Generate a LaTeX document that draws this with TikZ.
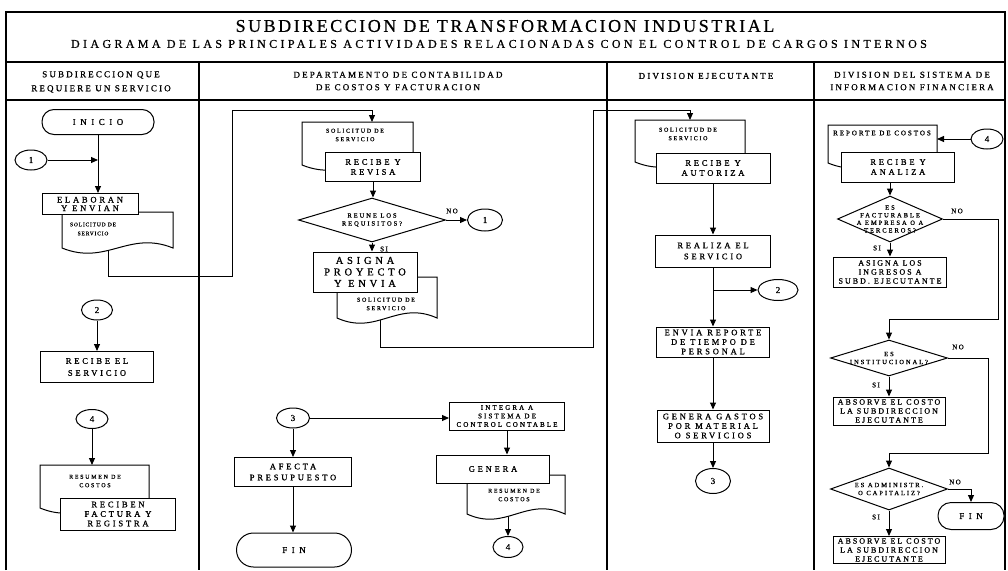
\documentclass[tikz,border=0pt]{standalone}
\usepackage{fontspec}
\setmainfont{Liberation Serif}
\usetikzlibrary{arrows.meta,shapes.geometric}

% size, leading, letter spacing (percent of the font size), emboldening
\newcommand\fnt[4]{\fontsize{#1}{#2}\selectfont\addfontfeature{LetterSpace=#3,FakeBold=#4}}
\newcommand\ttlfont{\fnt{18}{20}{14}{0.6}}
\newcommand\subttlfont{\fnt{12}{14}{28}{0.6}}
\newcommand\hdfont{\fnt{9}{12.5}{24}{1}}
\newcommand\bxfont{\fnt{8.5}{9.5}{33}{1}}
\newcommand\bxsmall{\fnt{8}{9}{25}{1}}
\newcommand\bxbig{\fnt{10.5}{11.5}{36}{1}}
\newcommand\bxtiny{\fnt{7}{8.5}{30}{1}}
\newcommand\docfont{\fnt{6}{8.5}{28}{1}}
\newcommand\docsmall{\fnt{5.5}{9}{15}{1}}
\newcommand\decfont{\fnt{6.5}{8}{30}{1}}
\newcommand\numfont{\fnt{9}{10}{0}{1}}
\newcommand\termfont{\fnt{9}{10}{50}{1}}
\newcommand\lblfont{\fnt{7}{8}{20}{1}}

% document symbol: left, top, right, bottom
\newcommand\docpath[4]{%
  \draw[docshape] (#1,#2) -- (#3,#2) -- (#3,#4)
    .. controls ({#3-0.4*(#3-#1)},{#4-18}) and ({#1+0.4*(#3-#1)},{#4+18}) .. (#1,#4) -- cycle;}

\pgfdeclarelayer{bg}
\pgfsetlayers{bg,main}

\tikzset{
  frame/.style={line width=1.2pt},
  proc/.style={draw, fill=white, line width=1pt, inner sep=0pt, align=center, font=\bxfont},
  term/.style={draw, fill=white, line width=1pt, inner sep=0pt, font=\termfont},
  conn/.style={draw, ellipse, fill=white, line width=1pt, inner sep=0pt, font=\numfont},
  dec/.style={draw, diamond, fill=white, line width=1pt, inner sep=0pt},
  dectext/.style={align=center, inner sep=0pt, font=\decfont},
  docshape/.style={draw, fill=white, line width=1pt},
  doctext/.style={align=center, inner sep=0pt, font=\docfont},
  hd/.style={align=center, inner sep=0pt, font=\hdfont},
  lbl/.style={inner sep=0pt, font=\lblfont},
  flow/.style={line width=1pt, -{Triangle[length=7pt,width=6pt]}},
}

\begin{document}
\begin{tikzpicture}[x=1pt,y=-1pt]
\useasboundingbox (0,0) rectangle (1008,570);

% ---------- frame and lanes ----------
\draw[frame] (6,570) -- (6,12) -- (1005,12) -- (1005,570);
\draw[frame] (6,62) -- (1005,62);
\draw[frame] (6,100) -- (1005,100);
\foreach \x in {199,607,814} \draw[frame] (\x,62) -- (\x,570);

\node[font=\ttlfont, inner sep=0pt] (ttl) at (505,26) {SUBDIRECCION DE TRANSFORMACION INDUSTRIAL};
\node[font=\subttlfont, inner sep=0pt] (subttl) at (499,44) {DIAGRAMA DE LAS PRINCIPALES ACTIVIDADES RELACIONADAS CON EL CONTROL DE CARGOS INTERNOS};

\node[hd, font=\fnt{9}{14}{24}{1}] (h1) at (101,82) {SUBDIRECCION QUE\\REQUIERE UN SERVICIO};
\node[hd] (h2) at (398,81) {DEPARTAMENTO DE CONTABILIDAD\\DE COSTOS Y FACTURACION};
\node[hd] (h3) at (706,76) {DIVISION EJECUTANTE};
\node[hd] (h4) at (912,81) {DIVISION DEL SISTEMA DE\\INFORMACION FINANCIERA};

% ---------- lane 1 ----------
\node[term, rounded corners=12pt, minimum width=112pt, minimum height=25pt] (inicio) at (98,122) {INICIO};
\node[conn, minimum width=32pt, minimum height=20pt] (c1a) at (31,160) {1};
\docpath{62}{212}{173}{248}
\node[doctext, font=\docsmall] (d1t) at (93,229) {SOLICITUD DE\\SERVICIO};
\node[proc, minimum width=96pt, minimum height=21pt, font=\fnt{8.5}{8.5}{33}{1}] (elab) at (90,204) {ELABORAN\\Y ENVIAN};
\coordinate (d1out) at (108,240);

\node[conn, minimum width=31pt, minimum height=20pt] (c2a) at (97,310) {2};
\node[proc, minimum width=113pt, minimum height=31pt, font=\fnt{8.5}{12}{33}{1}] (recse) at (97,367) {RECIBE EL\\SERVICIO};
\node[conn, minimum width=32pt, minimum height=19pt] (c4a) at (92,419) {4};
\docpath{40}{465}{149}{508}
\node[doctext] (d6t) at (95,481) {RESUMEN DE\\COSTOS};
\coordinate (d6top) at (92,465);
\node[proc, minimum width=115pt, minimum height=32pt] (recfa) at (118,514) {RECIBEN\\FACTURA Y\\REGISTRA};

% ---------- lane 2 ----------
\docpath{302}{122}{413}{165}
\node[doctext] (d2t) at (355,135) {SOLICITUD DE\\SERVICIO};
\coordinate (d2top) at (372,122);
\node[proc, minimum width=95pt, minimum height=29pt, font=\fnt{8.5}{10}{33}{1}] (rev) at (373,167) {RECIBE Y\\REVISA};
\node[dec, minimum width=147pt, minimum height=44pt,
      label={[dectext]center:{REUNE LOS\\REQUISITOS?}}] (dec1) at (372,220) {};
\node[conn, minimum width=35pt, minimum height=22pt] (c1b) at (485,220) {1};
\node[lbl] (no1) at (452,211) {NO};
\node[lbl] (si1) at (384,249) {SI};
\docpath{337}{277}{437}{318}
\node[doctext] (d3t) at (386,304) {SOLICITUD DE\\SERVICIO};
\coordinate (d3out) at (380,310);
\node[proc, minimum width=104pt, minimum height=40pt, font=\bxbig] (asig) at (365,272) {ASIGNA\\PROYECTO\\Y ENVIA};

\node[conn, minimum width=33pt, minimum height=20pt] (c3b) at (293,418) {3};
\node[proc, minimum width=117pt, minimum height=29pt, font=\fnt{8.5}{11}{33}{1}] (afecta) at (293,472) {AFECTA\\PRESUPUESTO};
\node[term, rounded corners=17pt, minimum width=115pt, minimum height=34pt] (fin1) at (294,550) {FIN};
\node[proc, minimum width=115pt, minimum height=28pt, font=\bxtiny] (integ) at (507,416) {INTEGRA A\\SISTEMA DE\\CONTROL CONTABLE};
\docpath{467}{475}{565}{514}
\node[doctext] (d5t) at (514,495) {RESUMEN DE\\COSTOS};
\coordinate (d5out) at (508,505);
\node[proc, minimum width=113pt, minimum height=28pt] (gen) at (493,469) {GENERA};
\node[conn, minimum width=30pt, minimum height=21pt] (c4b) at (508,547) {4};

% ---------- lane 3 ----------
\docpath{635}{120}{745}{162}
\node[doctext] (d4t) at (688,134) {SOLICITUD DE\\SERVICIO};
\coordinate (d4top) at (690,120);
\node[proc, minimum width=114pt, minimum height=30pt, font=\fnt{8.5}{10}{33}{1}] (aut) at (713,168) {RECIBE Y\\AUTORIZA};
\node[proc, minimum width=115pt, minimum height=32pt, font=\fnt{8.5}{11}{33}{1}] (real) at (713,251) {REALIZA EL\\SERVICIO};
\coordinate (br) at (713,290);
\node[conn, minimum width=40pt, minimum height=21pt] (c2b) at (778,290) {2};
\node[proc, minimum width=113pt, minimum height=30pt] (env) at (713,342) {ENVIA REPORTE\\DE TIEMPO DE\\PERSONAL};
\node[proc, minimum width=112pt, minimum height=32pt] (gas) at (713,426) {GENERA GASTOS\\POR MATERIAL\\O SERVICIOS};
\node[conn, minimum width=35pt, minimum height=25pt] (c3a) at (713,481) {3};

% ---------- lane 4 ----------
\docpath{828}{125}{937}{163}
\node[doctext, font=\fnt{7}{8}{28}{1}] (d7t) at (882,133) {REPORTE DE COSTOS};
\coordinate (d7in) at (937,139);
\node[conn, minimum width=32pt, minimum height=20pt] (c4c) at (987,139) {4};
\node[proc, minimum width=113pt, minimum height=30pt, font=\fnt{8.5}{10}{33}{1}] (ana) at (898,167) {RECIBE Y\\ANALIZA};
\node[dec, minimum width=105pt, minimum height=46pt,
      label={[dectext, font=\fnt{6.5}{7.6}{30}{1}]center:{ES\\FACTURABLE\\A EMPRESA O A\\TERCEROS?}}] (dec2) at (890,219) {};
\node[lbl] (no2) at (957,211) {NO};
\node[lbl] (si2) at (877,248) {SI};
\node[proc, minimum width=113pt, minimum height=30pt, font=\bxsmall] (asig2) at (890,272) {ASIGNA LOS\\INGRESOS A\\SUBD. EJECUTANTE};
\coordinate (bend5) at (998,319);
\node[dec, minimum width=117pt, minimum height=36pt,
      label={[dectext]center:{ES\\INSTITUCIONAL?}}] (dec3) at (889,358) {};
\node[lbl] (no3) at (958,347) {NO};
\node[lbl] (si3) at (876,385) {SI};
\node[proc, minimum width=112pt, minimum height=28pt, font=\bxsmall] (abs1) at (889,411) {ABSORVE EL COSTO\\LA SUBDIRECCION\\EJECUTANTE};
\coordinate (bend6) at (988,453);
\node[dec, minimum width=117pt, minimum height=42pt,
      label={[dectext]center:{ES ADMINISTR.\\O CAPITALIZ?}}] (dec4) at (889,489) {};
\node[lbl] (no4) at (955,482) {NO};
\node[lbl] (si4) at (876,517) {SI};
\node[term, rounded corners=13pt, minimum width=66pt, minimum height=27pt] (fin2) at (971,516) {FIN};
\node[proc, minimum width=112pt, minimum height=27pt, font=\bxsmall] (abs2) at (889,550) {ABSORVE EL COSTO\\LA SUBDIRECCION\\EJECUTANTE};

% ---------- connectors ----------
\coordinate (bend1) at (232,276);
\coordinate (bend2) at (232,110);
\coordinate (bend3) at (593,347);
\coordinate (bend4) at (593,110);

\begin{pgfonlayer}{bg}
  % lane 1
  \draw[flow] (inicio.south) -- (inicio.south |- elab.north);
  \draw[flow] (c1a.east) -- (c1a.east -| inicio.south);
  \draw[flow] (d1out) |- (bend1) -- (bend2) -| (d2top);
  \draw[flow] (c2a.south) -- (c2a.south |- recse.north);
  \draw[flow] (c4a.south) -- (d6top);
  % lane 2
  \draw[flow] (rev.south) -- (rev.south |- dec1.north);
  \draw[flow] (dec1.east) -- (c1b.west);
  \draw[flow] (dec1.south) -- (dec1.south |- asig.north);
  \draw[flow] (d3out) |- (bend3) -- (bend4) -| (d4top);
  \draw[flow] (c3b.east) -- (c3b.east -| integ.west);
  \draw[flow] (c3b.south) -- (c3b.south |- afecta.north);
  \draw[flow] (afecta.south) -- (afecta.south |- fin1.north);
  \draw[flow] (integ.south) -- (integ.south |- gen.north);
  \draw[flow] (d5out) -- (c4b.north);
  % lane 3
  \draw[flow] (aut.south) -- (real.north);
  \draw[flow] (real.south) -- (env.north);
  \draw[flow] (br) -- (c2b.west);
  \draw[flow] (env.south) -- (gas.north);
  \draw[flow] (gas.south) -- (c3a.north);
  % lane 4
  \draw[flow] (c4c.west) -- (d7in);
  \draw[flow] (dec2.north |- ana.south) -- (dec2.north);
  \draw[flow] (dec2.south) -- (dec2.south |- asig2.north);
  \draw[flow] (dec2.east) -| (bend5) -| (dec3.north);
  \draw[flow] (dec3.south) -- (dec3.south |- abs1.north);
  \draw[flow] (dec3.east) -| (bend6) -| (dec4.north);
  \draw[flow] (dec4.south) -- (dec4.south |- abs2.north);
  \draw[flow] (dec4.east) -| (fin2.north);
\end{pgfonlayer}
\end{tikzpicture}
\end{document}
